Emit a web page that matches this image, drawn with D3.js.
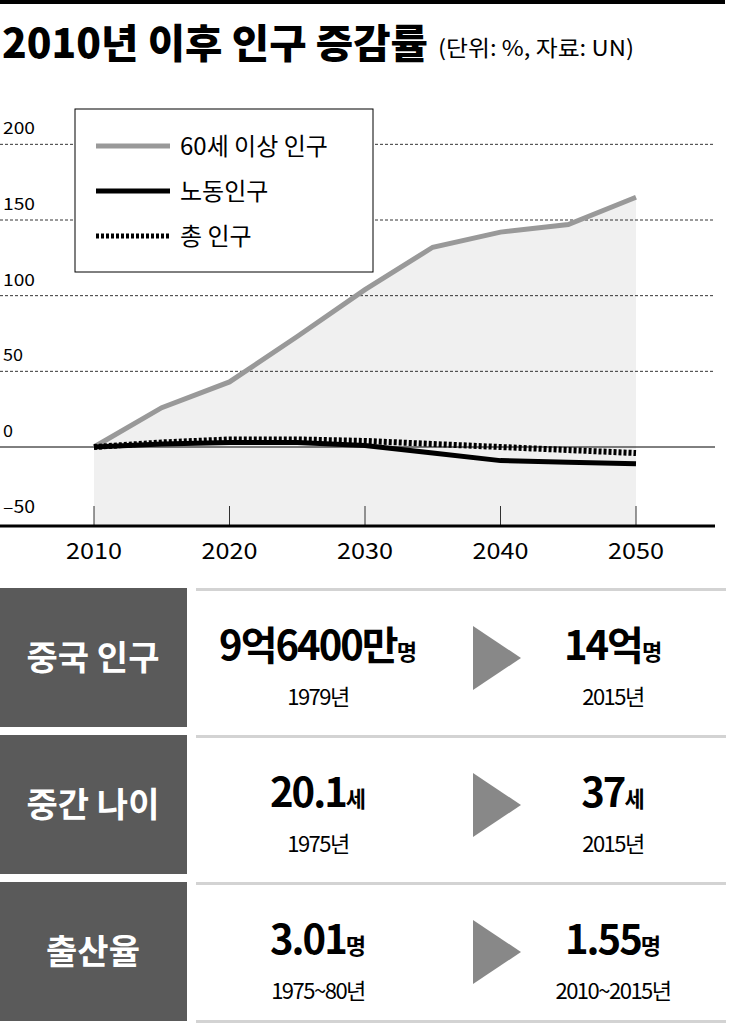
<!DOCTYPE html>
<html><head><meta charset="utf-8">
<script src="https://cdn.jsdelivr.net/npm/d3@7"></script>
<style>body{margin:0;background:#fff}text{font-family:"Noto Sans CJK KR",sans-serif}</style>
</head><body><div id="chart"></div>
<script>
// data
const years = [2010, 2015, 2020, 2025, 2030, 2035, 2040, 2045, 2050];
const elderly = [0, 26, 43, 73, 104, 132, 142, 147, 165];
const labor = [0, 2, 3, 3, 1, -4, -9, -10, -11];
const total = [0, 3, 5, 5, 4, 2, 0, -2, -4];
const yTicks = [200, 150, 100, 50, 0, -50];
const xTicks = [2010, 2020, 2030, 2040, 2050];
const legendNames = ["60세 이상 인구", "노동인구", "총 인구"];
const rowLabels = ["중국 인구", "중간 나이", "출산율"];
const fromVal = [["9억6400만", "명"], ["20.1", "세"], ["3.01", "명"]];
const fromYear = ["1979년", "1975년", "1975~80년"];
const toVal = [["14억", "명"], ["37", "세"], ["1.55", "명"]];
const toYear = ["2015년", "2015년", "2010~2015년"];

const W = 733, H = 1025;
const svg = d3.select("#chart").append("svg").attr("width", W).attr("height", H);

// top rule + title
svg.append("rect").attr("x", 0).attr("y", 0).attr("width", 725).attr("height", 4).attr("fill", "#000");
svg.append("text").attr("x", 2).attr("y", 58).attr("font-size", 40).attr("font-weight", 900)
  .attr("textLength", 426).attr("lengthAdjust", "spacingAndGlyphs").text("2010년 이후 인구 증감률");
svg.append("text").attr("x", 438).attr("y", 56).attr("font-size", 22)
  .attr("textLength", 196).attr("lengthAdjust", "spacingAndGlyphs").text("(단위: %, 자료: UN)");

const x = d3.scaleLinear().domain([2010, 2050]).range([94, 636]);
const y = d3.scaleLinear().domain([0, 150]).range([447, 220]);

// shaded area
svg.append("path").datum(years)
  .attr("fill", "#f0f0f0")
  .attr("d", d3.area().x(d => x(d)).y0(y(-50) + 2).y1((d, i) => y(elderly[i])));

// grid
yTicks.forEach(t => {
  if (t > 0) svg.append("line").attr("x1", 0).attr("x2", 715).attr("y1", y(t)).attr("y2", y(t))
    .attr("stroke", "#000").attr("stroke-width", 0.8).attr("stroke-dasharray", "3,2");
  svg.append("text").attr("x", 3).attr("y", y(t) - 10).attr("font-size", 17)
    .attr("textLength", t === -50 ? 32 : (t >= 100 ? 32 : (t === 0 ? 10 : 20))).attr("lengthAdjust", "spacingAndGlyphs")
    .text(t < 0 ? "–" + Math.abs(t) : t);
});
svg.append("line").attr("x1", 0).attr("x2", 715).attr("y1", y(0)).attr("y2", y(0)).attr("stroke", "#000").attr("stroke-width", 1);

// x axis
svg.append("line").attr("x1", 0).attr("x2", 715).attr("y1", 526).attr("y2", 526).attr("stroke", "#000").attr("stroke-width", 3);
xTicks.forEach(t => {
  svg.append("line").attr("x1", x(t)).attr("x2", x(t)).attr("y1", 506).attr("y2", 526).attr("stroke", "#000").attr("stroke-width", 0.8);
  svg.append("text").attr("x", x(t)).attr("y", 559).attr("text-anchor", "middle").attr("font-size", 22)
    .attr("textLength", 56).attr("lengthAdjust", "spacingAndGlyphs").text(t);
});

const line = arr => d3.line().x(d => x(d)).y((d, i) => y(arr[i]))(years);
svg.append("path").attr("d", line(elderly)).attr("fill", "none").attr("stroke", "#999").attr("stroke-width", 5);
svg.append("path").attr("d", line(total)).attr("fill", "none").attr("stroke", "#000").attr("stroke-width", 6).attr("stroke-dasharray", "3,2");
svg.append("path").attr("d", line(labor)).attr("fill", "none").attr("stroke", "#000").attr("stroke-width", 5);

// legend
const lg = svg.append("g");
lg.append("rect").attr("x", 75).attr("y", 109).attr("width", 298).attr("height", 163).attr("fill", "#fff").attr("stroke", "#000").attr("stroke-width", 1);
const legStyles = [{c: "#999", d: null}, {c: "#000", d: null}, {c: "#000", d: "3,2"}];
legendNames.forEach((n, i) => {
  const yy = 146 + i * 45;
  lg.append("line").attr("x1", 96).attr("x2", 170).attr("y1", yy).attr("y2", yy)
    .attr("stroke", legStyles[i].c).attr("stroke-width", 5).attr("stroke-dasharray", legStyles[i].d);
  lg.append("text").attr("x", 180).attr("y", yy + 9).attr("font-size", 24).text(n);
});

// bottom table
rowLabels.forEach((lab, i) => {
  const top = 588 + i * 147;
  svg.append("rect").attr("x", 0).attr("y", top).attr("width", 187).attr("height", 139).attr("fill", "#5a5a5a");
  svg.append("text").attr("x", 93).attr("y", top + 82).attr("text-anchor", "middle").attr("fill", "#fff")
    .attr("font-size", 34).attr("font-weight", 700).text(lab);
  svg.append("rect").attr("x", 196).attr("y", top).attr("width", 530).attr("height", 3).attr("fill", "#d3d3d3");
  if (i === 2) svg.append("rect").attr("x", 196).attr("y", top + 138).attr("width", 530).attr("height", 3).attr("fill", "#d3d3d3");
  // triangle
  svg.append("path").attr("d", `M473,${top + 38}L521,${top + 70}L473,${top + 102}Z`).attr("fill", "#888");
  const cell = (cx, v, yr) => {
    const t = svg.append("text").attr("x", cx).attr("y", top + 72).attr("text-anchor", "middle");
    t.append("tspan").attr("font-size", 40).attr("font-weight", 700).attr("letter-spacing", -2).text(v[0]);
    t.append("tspan").attr("font-size", 22).attr("font-weight", 700).text(v[1]);
    svg.append("text").attr("x", cx).attr("y", top + 117).attr("text-anchor", "middle").attr("font-size", 22)
      .attr("letter-spacing", -1.5).text(yr);
  };
  cell(318, fromVal[i], fromYear[i]);
  cell(613, toVal[i], toYear[i]);
});
</script></body></html>
